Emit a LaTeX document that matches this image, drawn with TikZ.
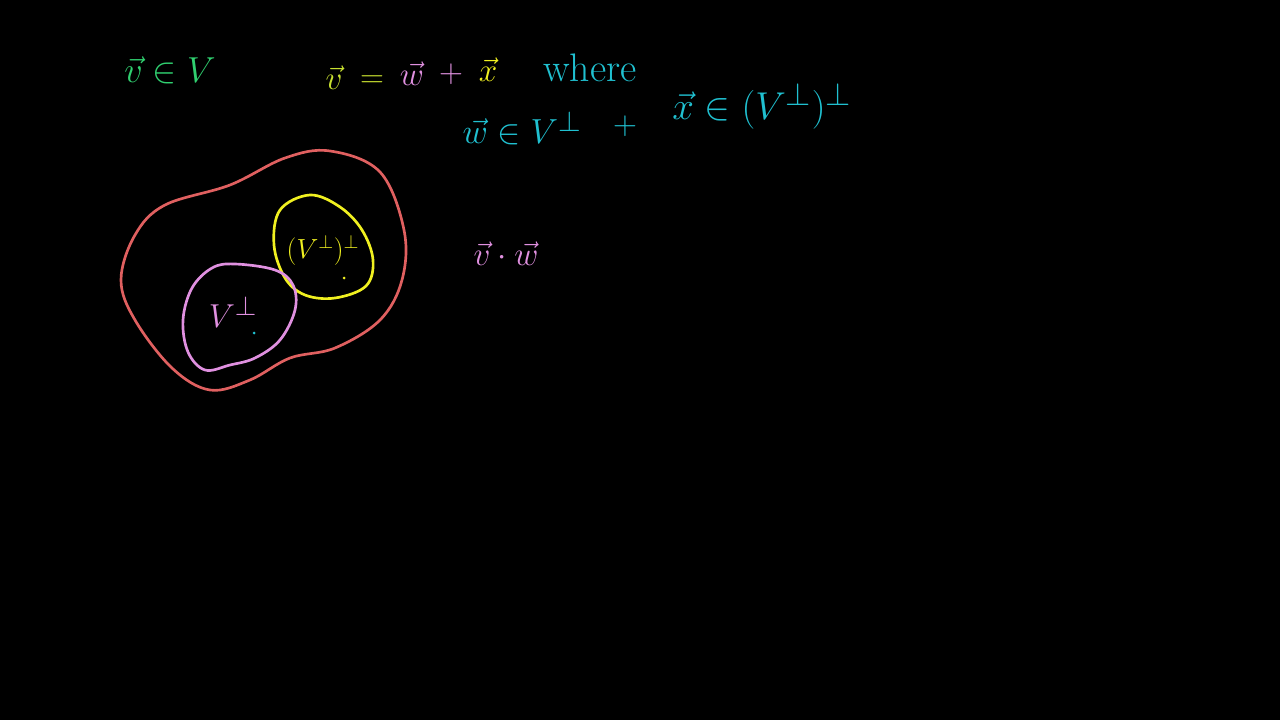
\documentclass[tikz,border=0pt]{standalone}
\usepackage{amsmath,amssymb}
\usepackage{graphicx}
\definecolor{cgreen}{HTML}{30D070}
\definecolor{clime}{HTML}{C8E030}
\definecolor{cpink}{HTML}{E090E0}
\definecolor{cyel}{HTML}{F0F020}
\definecolor{ccyan}{HTML}{20C0D0}
\definecolor{cred}{HTML}{E06060}
\tikzset{
  hand/.style={inner sep=0pt, font=\Huge},
  blob/.style={line width=2pt, line join=round},
}
\begin{document}
\begin{tikzpicture}[x=0.75pt,y=-0.75pt]
\fill[black] (0,0) rectangle (1280,720);
\useasboundingbox (0,0) rectangle (1280,720);

% top-left
\node[hand, text=cgreen] (vinV) at (170,70) {\scalebox{1.09}{$\vec{v}\in V$}};

% first equation
\node[hand, text=clime] (v1) at (334,78) {$\vec{v}$};
\node[hand, text=clime] (eq) at (372,82) {$=$};
\node[hand, text=cpink] (w1) at (412,74) {$\vec{w}$};
\node[hand, text=cpink] (plus1) at (451,74) {$+$};
\node[hand, text=cyel] (x1) at (488,70) {$\vec{x}$};
\node[hand, text=ccyan] (where) at (590,68) {\scalebox{1.2}{where}};

% second line
\node[hand, text=ccyan] (winV) at (522,128) {\scalebox{1.05}{$\vec{w}\in V^{\perp}$}};
\node[hand, text=ccyan] (plus2) at (625,126) {$+$};
\node[hand, text=ccyan] (xin) at (762,106) {\scalebox{1.17}{$\vec{x}\in (V^{\perp})^{\perp}$}};

% dot product
\node[hand, text=cpink] (vdotw) at (506,254) {$\vec{v}\cdot\vec{w}$};

% outer red blob
\draw[blob, cred] plot[smooth cycle, tension=0.6] coordinates {
 (330,151) (380,172) (404,230) (402,280) (380,320) (335,348) (290,358)
 (250,380) (210,390) (172,368) (135,320) (121,280) (135,235) (165,205)
 (230,185) (285,158)};

% yellow blob
\draw[blob, cyel] plot[smooth cycle, tension=0.6] coordinates {
 (310,195) (340,207) (362,230) (373,260) (366,286) (335,298) (305,295)
 (285,278) (274,245) (280,210)};

% pink blob
\draw[blob, cpink] plot[smooth cycle, tension=0.6] coordinates {
 (235,264) (275,270) (293,285) (295,310) (280,340) (255,358) (230,365)
 (205,370) (188,352) (183,320) (192,288) (212,268)};

% labels in the blobs
\node[hand, text=cpink] (vperp) at (233,312) {$V^{\perp}$};
\node[hand, text=cyel, font=\huge] (vpp) at (323,250) {$(V^{\perp})^{\perp}$};

% small dots
\fill[ccyan] (254,333) circle (1.5);
\fill[cyel] (344,278) circle (1.5);
\end{tikzpicture}
\end{document}
